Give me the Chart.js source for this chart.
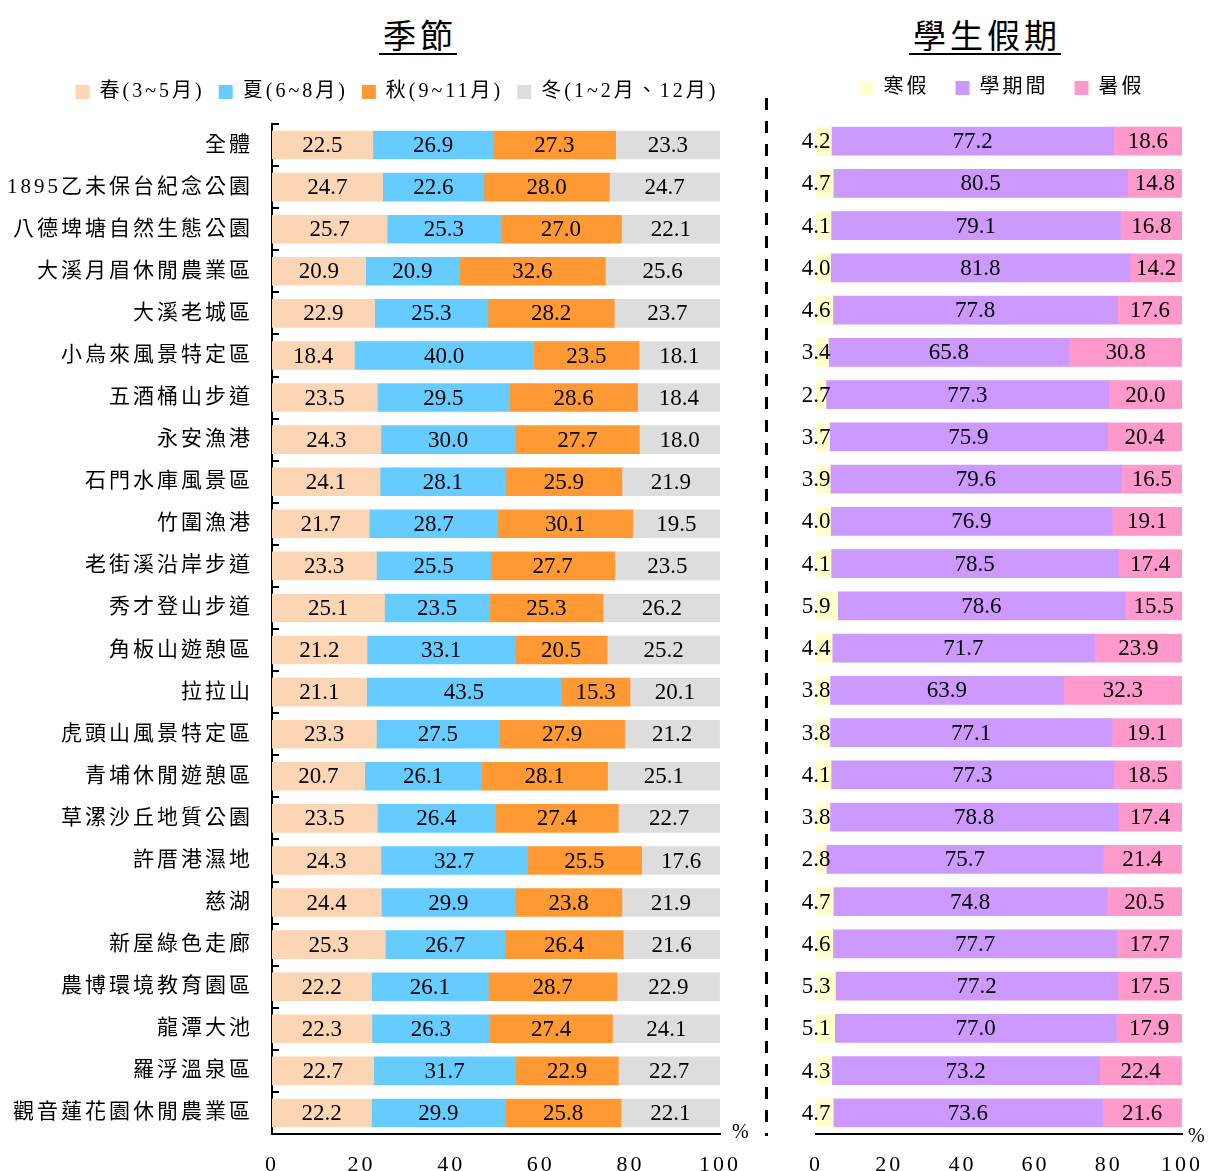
<!DOCTYPE html>
<html>
<head>
<meta charset="utf-8">
<script src="https://cdn.jsdelivr.net/npm/chart.js@4/dist/chart.umd.min.js"></script>
<style>
  html, body { margin: 0; padding: 0; background: #ffffff; }
  #wrap { position: relative; width: 1208px; height: 1171px; overflow: hidden; }
  canvas { position: absolute; top: 0; }
  #c1 { left: 0; }
  #c2 { left: 770px; }
  .title { position: absolute; top: 10px; text-align: center; font-family: 'Noto Sans CJK TC', sans-serif; font-size: 33px; color: #000; }
  .title span { display: inline-block; line-height: 37px; border-bottom: 2px solid #000; letter-spacing: 4px; padding-left: 4px; }
  #dash { position: absolute; left: 765px; top: 98px; width: 3px; height: 1038px;
          background: repeating-linear-gradient(to bottom, #000 0px, #000 12px, transparent 12px, transparent 23px); }
</style>
</head>
<body>
<div id="wrap">
  <div class="title" style="left:318px;width:200px;"><span>季節</span></div>
  <div class="title" style="left:885px;width:200px;"><span>學生假期</span></div>
  <canvas id="c1" width="760" height="1171"></canvas>
  <div id="dash"></div>
  <canvas id="c2" width="460" height="1171"></canvas>
</div>
<script>
const categories = ['全體','1895乙未保台紀念公園','八德埤塘自然生態公園','大溪月眉休閒農業區','大溪老城區','小烏來風景特定區','五酒桶山步道','永安漁港','石門水庫風景區','竹圍漁港','老街溪沿岸步道','秀才登山步道','角板山遊憩區','拉拉山','虎頭山風景特定區','青埔休閒遊憩區','草漯沙丘地質公園','許厝港濕地','慈湖','新屋綠色走廊','農博環境教育園區','龍潭大池','羅浮溫泉區','觀音蓮花園休閒農業區'];

const seasonLabels = ['春(3~5月)','夏(6~8月)','秋(9~11月)','冬(1~2月、12月)'];
const spring = [22.5,24.7,25.7,20.9,22.9,18.4,23.5,24.3,24.1,21.7,23.3,25.1,21.2,21.1,23.3,20.7,23.5,24.3,24.4,25.3,22.2,22.3,22.7,22.2];
const summer = [26.9,22.6,25.3,20.9,25.3,40.0,29.5,30.0,28.1,28.7,25.5,23.5,33.1,43.5,27.5,26.1,26.4,32.7,29.9,26.7,26.1,26.3,31.7,29.9];
const autumn = [27.3,28.0,27.0,32.6,28.2,23.5,28.6,27.7,25.9,30.1,27.7,25.3,20.5,15.3,27.9,28.1,27.4,25.5,23.8,26.4,28.7,27.4,22.9,25.8];
const winter = [23.3,24.7,22.1,25.6,23.7,18.1,18.4,18.0,21.9,19.5,23.5,26.2,25.2,20.1,21.2,25.1,22.7,17.6,21.9,21.6,22.9,24.1,22.7,22.1];

const holidayLabels = ['寒假','學期間','暑假'];
const winterBreak = [4.2,4.7,4.1,4.0,4.6,3.4,2.7,3.7,3.9,4.0,4.1,5.9,4.4,3.8,3.8,4.1,3.8,2.8,4.7,4.6,5.3,5.1,4.3,4.7];
const semester = [77.2,80.5,79.1,81.8,77.8,65.8,77.3,75.9,79.6,76.9,78.5,78.6,71.7,63.9,77.1,77.3,78.8,75.7,74.8,77.7,77.2,77.0,73.2,73.6];
const summerBreak = [18.6,14.8,16.8,14.2,17.6,30.8,20.0,20.4,16.5,19.1,17.4,15.5,23.9,32.3,19.1,18.5,17.4,21.4,20.5,17.7,17.5,17.9,22.4,21.6];

const xTickValues = [0,20,40,60,80,100];

const SERIF = "'Liberation Serif', 'Noto Sans CJK TC', serif";

const spacingPlugin = {
  id: 'spacing',
  beforeUpdate(chart) { chart.ctx.letterSpacing = '3px'; },
  beforeDraw(chart) { chart.ctx.letterSpacing = '3px'; }
};

// move the legend row so that its centre sits at (cx, cy) in canvas coords
const legendPlace = {
  id: 'legendPlace',
  afterLayout(chart, args, opts) {
    const lg = chart.legend;
    if (!lg) return;
    const pad = lg.options.labels.padding;
    const itemH = Math.max(lg.options.labels.boxHeight, lg.options.labels.font.size);
    const dx = opts.cx - (lg.left + lg.right) / 2;
    const dy = opts.cy - (lg.top + pad + itemH / 2);
    lg.left += dx; lg.right += dx; lg.top += dy; lg.bottom += dy;
  }
};

const barLabels = {
  id: 'barLabels',
  afterDatasetsDraw(chart, args, opts) {
    const ctx = chart.ctx;
    ctx.save();
    ctx.letterSpacing = '0px';
    ctx.font = '23px ' + SERIF;
    ctx.fillStyle = '#000';
    ctx.textAlign = 'center';
    ctx.textBaseline = 'middle';
    chart.data.datasets.forEach((ds, i) => {
      const meta = chart.getDatasetMeta(i);
      meta.data.forEach((bar, j) => {
        const v = ds.data[j];
        let x = (bar.x + bar.base) / 2;
        if (opts.edgeFirst && i === 0) x = bar.base;
        ctx.fillText(v.toFixed(1), x, bar.y + 1);
      });
    });
    const a = chart.chartArea;
    ctx.font = '20px ' + SERIF;
    ctx.textAlign = 'left';
    ctx.textBaseline = 'alphabetic';
    ctx.fillText('%', a.right + opts.pctDx, a.bottom + opts.pctDy);
    if (opts.innerTicks) {
      const n = chart.data.labels.length;
      const step = (a.bottom - a.top) / n;
      ctx.strokeStyle = '#000';
      ctx.lineWidth = 2;
      for (let i = 0; i < n; i++) {
        const y = Math.round(a.top + i * step);
        ctx.beginPath();
        ctx.moveTo(a.left, y);
        ctx.lineTo(a.left + 7, y);
        ctx.stroke();
      }
    }
    ctx.restore();
  }
};

function xScale() {
  return {
    min: 0, max: 100,
    stacked: true,
    afterBuildTicks(scale) { scale.ticks = xTickValues.map(v => ({ value: v })); },
    afterFit(scale) { scale.height = 37; },
    grid: { display: false },
    border: { display: true, color: '#000', width: 2 },
    ticks: { color: '#000', font: { family: SERIF, size: 22 }, padding: 10, maxRotation: 0 }
  };
}

function legendOpts(pad) {
  return {
    display: true,
    position: 'top',
    labels: {
      color: '#000',
      font: { family: SERIF, size: 20 },
      boxWidth: 14, boxHeight: 14,
      padding: pad
    }
  };
}

const c1 = new Chart(document.getElementById('c1'), {
  type: 'bar',
  data: {
    labels: categories,
    datasets: [
      { label: seasonLabels[0], data: spring, backgroundColor: '#FCD5B5' },
      { label: seasonLabels[1], data: summer, backgroundColor: '#66CCFF' },
      { label: seasonLabels[2], data: autumn, backgroundColor: '#FF9933' },
      { label: seasonLabels[3], data: winter, backgroundColor: '#DDDDDD' }
    ]
  },
  options: {
    responsive: false,
    animation: false,
    indexAxis: 'y',
    layout: { padding: { top: 62, left: 0, right: 40, bottom: 0 } },
    datasets: { bar: { barThickness: 28, borderWidth: 0 } },
    scales: {
      x: xScale(),
      y: {
        stacked: true,
        afterFit(scale) { scale.width = 272; },
        grid: { display: false },
        border: { display: true, color: '#000', width: 2 },
        ticks: { color: '#000', font: { family: SERIF, size: 21 }, padding: 11, autoSkip: false }
      }
    },
    plugins: {
      legend: legendOpts(14),
      tooltip: { enabled: false },
      legendPlace: { cx: 397, cy: 92 },
      barLabels: { edgeFirst: false, innerTicks: true, pctDx: 12, pctDy: 4 }
    }
  },
  plugins: [spacingPlugin, legendPlace, barLabels]
});

const c2 = new Chart(document.getElementById('c2'), {
  type: 'bar',
  data: {
    labels: categories,
    datasets: [
      { label: holidayLabels[0], data: winterBreak, backgroundColor: '#FFFFCC' },
      { label: holidayLabels[1], data: semester, backgroundColor: '#CC99FF' },
      { label: holidayLabels[2], data: summerBreak, backgroundColor: '#FF99CC' }
    ]
  },
  options: {
    responsive: false,
    animation: false,
    indexAxis: 'y',
    layout: { padding: { top: 65, left: 46, right: 48, bottom: 0 } },
    datasets: { bar: { barThickness: 28, borderWidth: 0 } },
    scales: {
      x: xScale(),
      y: { stacked: true, display: false }
    },
    plugins: {
      legend: legendOpts(26),
      tooltip: { enabled: false },
      legendPlace: { cx: 232, cy: 88 },
      barLabels: { edgeFirst: true, innerTicks: false, pctDx: 6, pctDy: 8 }
    }
  },
  plugins: [spacingPlugin, legendPlace, barLabels]
});

// bring the plot areas to the reference's top and right edges
function fitArea(chart, top, right) {
  const a = chart.chartArea;
  const p = chart.options.layout.padding;
  p.top += top - a.top;
  p.right += a.right - right;
  chart.update();
}
fitArea(c1, 124, 720);
fitArea(c2, 120, 412);
</script>
</body>
</html>
